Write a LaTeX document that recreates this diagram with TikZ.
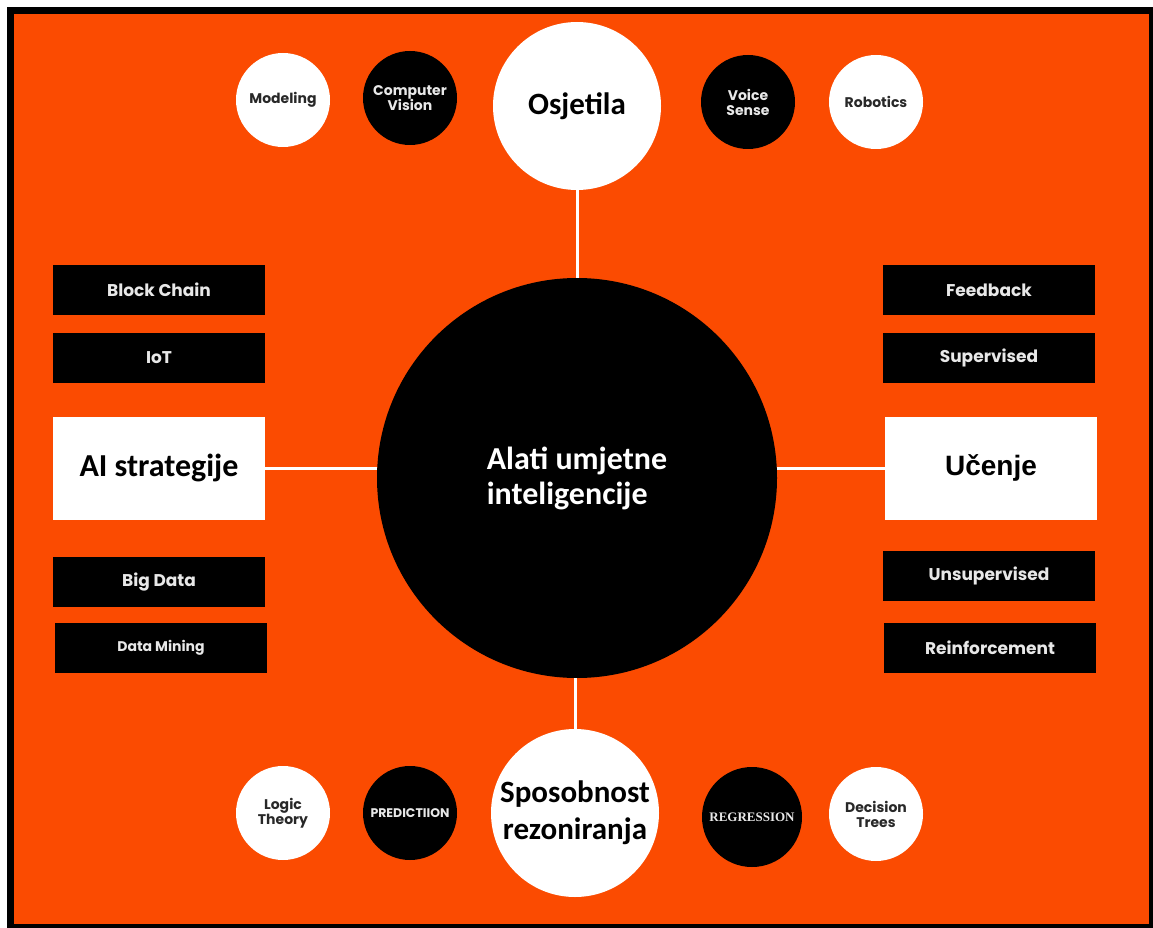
\documentclass[tikz,border=0pt]{standalone}
\usepackage{fontspec}
\newfontfamily\tagfont{Poppins}
\newfontfamily\headfont{Carlito}
\newfontfamily\arialfont{Liberation Sans}
\newfontfamily\romanfont{Liberation Serif}
\definecolor{aiorange}{RGB}{251,75,1}
\definecolor{softgray}{RGB}{232,232,232}
\definecolor{inkgray}{RGB}{40,40,40}
\tikzset{
	hub/.style={circle, fill=black, text=white, minimum size=400pt, inner sep=0pt, align=left, font=\headfont\bfseries\fontsize{32}{35}\selectfont},
	bigdot/.style={circle, fill=white, text=black, minimum size=168pt, inner sep=0pt, align=center, font=\headfont\bfseries\fontsize{31}{37}\selectfont},
	whitedot/.style={circle, fill=white, text=inkgray, minimum size=94pt, inner sep=0pt, align=center, font=\tagfont\bfseries\fontsize{14}{15}\selectfont},
	blackdot/.style={circle, fill=black, text=softgray, minimum size=94pt, inner sep=0pt, align=center, font=\tagfont\bfseries\fontsize{14}{15}\selectfont},
	tag/.style={fill=black, text=softgray, minimum width=212pt, minimum height=50pt, inner sep=0pt, font=\tagfont\bfseries\fontsize{17}{19}\selectfont},
	headbox/.style={fill=white, text=black, minimum width=212pt, minimum height=103pt, inner sep=0pt, font=\headfont\bfseries\fontsize{32}{36}\selectfont},
	link/.style={draw=white, line width=3pt}
}

\begin{document}
\begin{tikzpicture}[x=1pt, y=-1pt]
	\useasboundingbox (0,0) rectangle (1153,928);
	\fill[white] (0,0) rectangle (1153,928);
	\fill[black] (7,7) rectangle (1153,928);
	\fill[aiorange] (14,14) rectangle (1149,924);

	\node[hub] (tools) at (577, 478) {Alati umjetne\\inteligencije};
	\node[bigdot] (sense) at (577, 106) {Osjetila};
	\node[bigdot] (reason) at (575, 813) {Sposobnost\\rezoniranja};
	\node[headbox] (strategy) at (159, 468) {AI strategije};
	\node[headbox, font=\arialfont\bfseries\fontsize{28}{32}\selectfont] (learning) at (991, 468) {Učenje};

	\node[whitedot] (modeling) at (283, 100) {Modeling};
	\node[blackdot] (vision) at (410, 98) {Computer\\Vision};
	\node[blackdot] (voice) at (748, 102) {Voice\\Sense};
	\node[whitedot] (robotics) at (876, 102) {Robotics};

	\node[whitedot] (logic) at (283, 813) {Logic\\Theory};
	\node[blackdot, font=\tagfont\bfseries\fontsize{12.5}{14}\selectfont] (prediction) at (410, 813) {PREDICTIION};
	\node[blackdot, minimum size=100pt, font=\romanfont\bfseries\fontsize{13}{15}\selectfont] (regression) at (752, 817) {REGRESSION};
	\node[whitedot] (trees) at (876, 814) {Decision\\Trees};

	\node[tag] (chain) at (159, 290) {Block Chain};
	\node[tag] (iot) at (159, 358) {IoT};
	\node[tag] (bigdata) at (159, 582) {Big Data};
	\node[tag, font=\tagfont\bfseries\fontsize{14}{16}\selectfont] (mining) at (161, 648) {Data Mining};

	\node[tag] (feedback) at (989, 290) {Feedback};
	\node[tag] (supervised) at (989, 358) {Supervised};
	\node[tag] (unsupervised) at (989, 576) {Unsupervised};
	\node[tag] (reinforcement) at (990, 648) {Reinforcement};

	\draw[link] (sense) -- (tools);
	\draw[link] (reason.north) -- (reason.north |- tools.south);
	\draw[link] (strategy.east) -- (strategy.east -| tools.west);
	\draw[link] (learning.west -| tools.east) -- (learning.west);
\end{tikzpicture}
\end{document}
